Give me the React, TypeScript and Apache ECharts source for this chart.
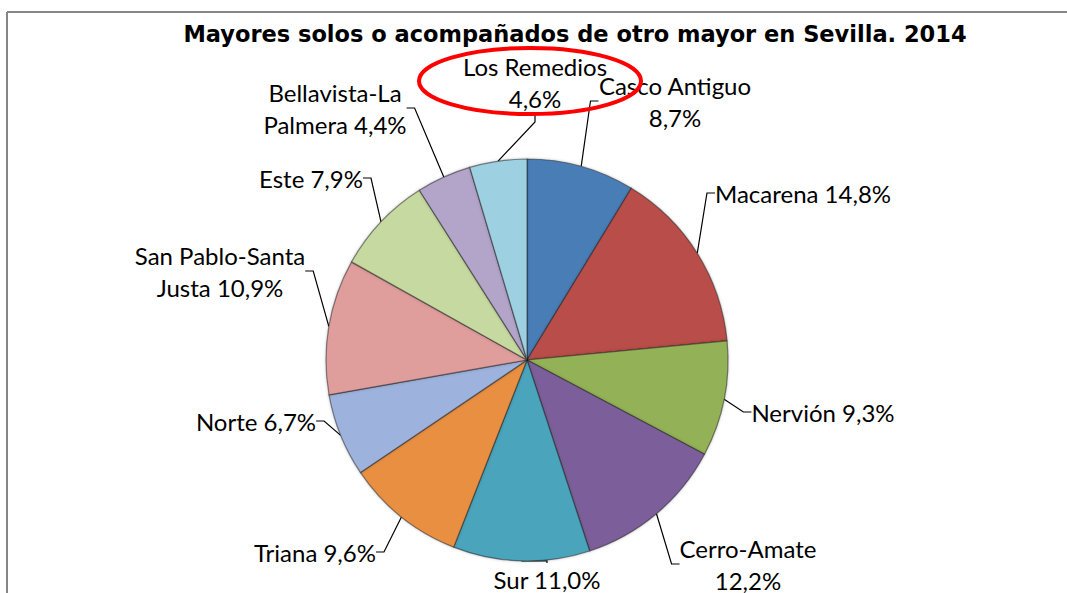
import React, { useEffect, useRef } from "react";
import * as echarts from "echarts";

const titleText = "Mayores solos o acompañados de otro mayor en Sevilla. 2014";
const categories = [
  "Casco Antiguo",
  "Macarena",
  "Nervión",
  "Cerro-Amate",
  "Sur",
  "Triana",
  "Norte",
  "San Pablo-Santa Justa",
  "Este",
  "Bellavista-La Palmera",
  "Los Remedios",
];
const values = [8.7, 14.8, 9.3, 12.2, 11.0, 9.6, 6.7, 10.9, 7.9, 4.4, 4.6];
// number of words on the first label line (0 = single line)
const labelWrap = [2, 0, 0, 1, 0, 0, 0, 2, 0, 1, 2];
const colors = [
  "#4A7DB6",
  "#B84D4A",
  "#93B156",
  "#7C5F9A",
  "#4AA4BC",
  "#E98F43",
  "#9DB2DC",
  "#DF9D9C",
  "#C6D9A0",
  "#B3A4C9",
  "#9DD0E1",
];
// label centres (layout)
const labelPos = [
  [675, 101],
  [803, 193],
  [823, 412],
  [748, 564],
  [547, 579],
  [315, 552],
  [256, 421],
  [220, 271],
  [311, 178],
  [335, 108],
  [535, 82],
];

const fmt = (v: number) => v.toFixed(1).replace(".", ",") + "%";

export default function App() {
  const ref = useRef<HTMLDivElement>(null);
  useEffect(() => {
    if (!ref.current) return;
    const chart = echarts.init(ref.current, null, { renderer: "svg" });
    chart.setOption({
      animation: false,
      backgroundColor: "#ffffff",
      title: {
        text: titleText,
        left: 575,
        top: 22,
        textAlign: "center",
        padding: 0,
        textStyle: {
          fontFamily: "DejaVu Sans",
          fontWeight: "bold",
          fontSize: 22.5,
          color: "#000",
        },
      },
      graphic: [
        {
          type: "line",
          shape: { x1: 7, y1: 12, x2: 1067, y2: 12 },
          style: { stroke: "#868686", lineWidth: 2 },
        },
        {
          type: "line",
          shape: { x1: 7, y1: 12, x2: 7, y2: 593 },
          style: { stroke: "#868686", lineWidth: 2 },
        },
        {
          type: "ellipse",
          z: 100,
          shape: { cx: 530, cy: 81, rx: 111, ry: 33 },
          style: { stroke: "#FF0000", fill: "none", lineWidth: 4 },
        },
      ],
      series: [
        {
          type: "pie",
          center: [527, 360],
          radius: 201,
          startAngle: 90,
          clockwise: true,
          avoidLabelOverlap: false,
          data: categories.map((c, i) => ({
            name: c,
            value: values[i],
            itemStyle: { color: colors[i] },
          })),
          itemStyle: {
            borderColor: "rgba(30,30,30,0.5)",
            borderWidth: 1.2,
            shadowBlur: 3,
            shadowColor: "rgba(0,0,0,0.25)",
          },
          label: {
            show: true,
            position: "outside",
            fontFamily: "Lato",
            fontSize: 24,
            lineHeight: 32,
            color: "#000",
            align: "center",
            formatter: (p: any) => {
              const words = `${p.name} ${fmt(p.value)}`.split(" ");
              const n = labelWrap[p.dataIndex];
              if (!n) return words.join(" ");
              return words.slice(0, n).join(" ") + "\n" + words.slice(n).join(" ");
            },
          },
          labelLine: {
            show: true,
            length: 10,
            length2: 8,
            smooth: false,
            lineStyle: { color: "#000", width: 1.2 },
          },
          labelLayout: (p: any) => ({
            x: labelPos[p.dataIndex][0],
            y: labelPos[p.dataIndex][1],
            align: "center",
            verticalAlign: "middle",
          }),
          emphasis: { disabled: true },
        },
      ],
    });
    return () => chart.dispose();
  }, []);
  return (
    <div
      ref={ref}
      style={{ position: "fixed", left: 0, top: 0, width: 1067, height: 593 }}
    />
  );
}
